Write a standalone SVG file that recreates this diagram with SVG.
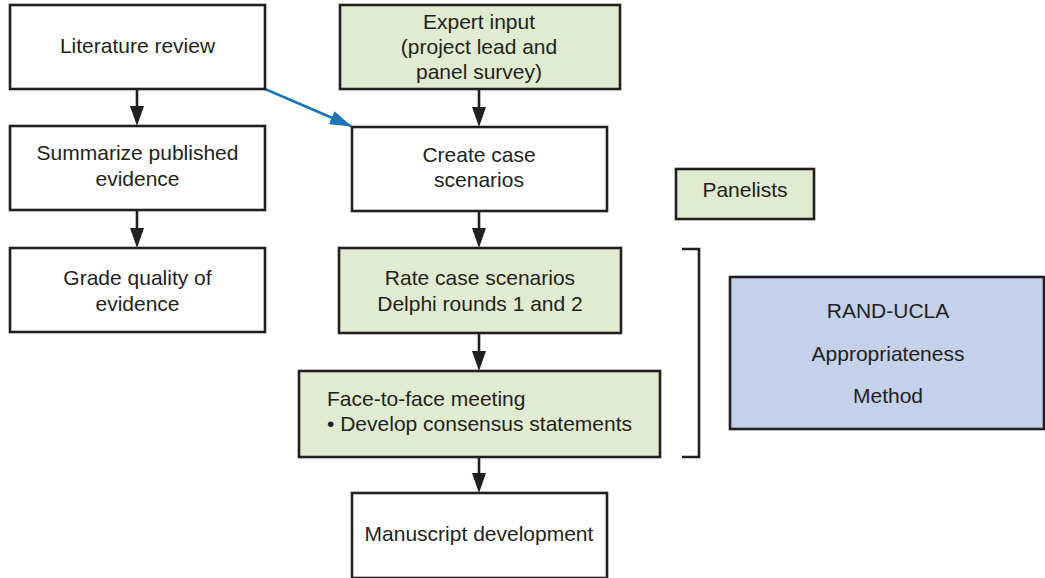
<svg xmlns="http://www.w3.org/2000/svg" width="1045" height="578" viewBox="0 0 1045 578">
<defs>
<style>
.box{stroke:#231f20;stroke-width:2.6}
.w{fill:#ffffff}
.g{fill:#e0ebd0}
.b{fill:#c5d0ea}
text{font-family:"Liberation Sans",Arial,sans-serif;font-size:21px;fill:#231f20}
.c{text-anchor:middle}
.k{stroke:#231f20;stroke-width:2.6;fill:none}
.bl{stroke:#1a75bc;stroke-width:2.5;fill:none}
.h{fill:#231f20}
</style>
<marker id="ahb" markerWidth="22" markerHeight="14" refX="21" refY="7" orient="auto" markerUnits="userSpaceOnUse" viewBox="0 0 22 14">
<path d="M0,0 L22,7 L0,14 Z" fill="#1a75bc"/>
</marker>
</defs>
<rect width="1045" height="578" fill="#ffffff"/>
<g id="connectors">
<line class="k" x1="137" y1="89" x2="137" y2="108"/>
<path class="h" d="M130,106 L144,106 L137,126 Z"/>
<line class="k" x1="137" y1="210" x2="137" y2="230"/>
<path class="h" d="M130,228 L144,228 L137,248 Z"/>
<line class="k" x1="479" y1="89" x2="479" y2="109"/>
<path class="h" d="M472,107 L486,107 L479,127 Z"/>
<line class="k" x1="479" y1="211" x2="479" y2="230"/>
<path class="h" d="M472,228 L486,228 L479,248 Z"/>
<line class="k" x1="479" y1="333" x2="479" y2="353"/>
<path class="h" d="M472,351 L486,351 L479,371 Z"/>
<line class="k" x1="479" y1="457" x2="479" y2="475"/>
<path class="h" d="M472,473 L486,473 L479,493 Z"/>
<line class="bl" x1="265" y1="89" x2="351" y2="126" marker-end="url(#ahb)"/>
<path class="k" d="M682,249 L699,249 L699,457 L682,457"/>
</g>
<g id="literature-review">
<rect class="box w" x="10" y="5" width="255" height="84"/>
<text class="c" x="137.5" y="53">Literature review</text>
</g>
<g id="summarize">
<rect class="box w" x="10" y="126" width="255" height="84"/>
<text class="c" x="137.5" y="160">Summarize published</text>
<text class="c" x="137.5" y="186">evidence</text>
</g>
<g id="grade">
<rect class="box w" x="10" y="248" width="255" height="84"/>
<text class="c" x="137.5" y="285">Grade quality of</text>
<text class="c" x="137.5" y="311">evidence</text>
</g>
<g id="expert-input">
<rect class="box g" x="340" y="5" width="280" height="84"/>
<text class="c" x="479" y="29">Expert input</text>
<text class="c" x="479" y="54">(project lead and</text>
<text class="c" x="479" y="79">panel survey)</text>
</g>
<g id="create-case">
<rect class="box w" x="352" y="127" width="255" height="84"/>
<text class="c" x="479" y="162">Create case</text>
<text class="c" x="479" y="187">scenarios</text>
</g>
<g id="rate-case">
<rect class="box g" x="339" y="248" width="282" height="85"/>
<text class="c" x="480" y="285">Rate case scenarios</text>
<text class="c" x="480" y="311">Delphi rounds 1 and 2</text>
</g>
<g id="face-to-face">
<rect class="box g" x="299" y="371" width="361" height="86"/>
<text x="327" y="406">Face-to-face meeting</text>
<text x="327" y="431">• Develop consensus statements</text>
</g>
<g id="manuscript">
<rect class="box w" x="352" y="493" width="255" height="85"/>
<text class="c" x="479" y="541">Manuscript development</text>
</g>
<g id="panelists">
<rect class="box g" x="676" y="169" width="138" height="50"/>
<text class="c" x="745" y="197">Panelists</text>
</g>
<g id="rand-ucla">
<rect class="box b" x="730" y="277" width="314" height="152"/>
<text class="c" x="888" y="318">RAND-UCLA</text>
<text class="c" x="888" y="361">Appropriateness</text>
<text class="c" x="888" y="403">Method</text>
</g>
</svg>
